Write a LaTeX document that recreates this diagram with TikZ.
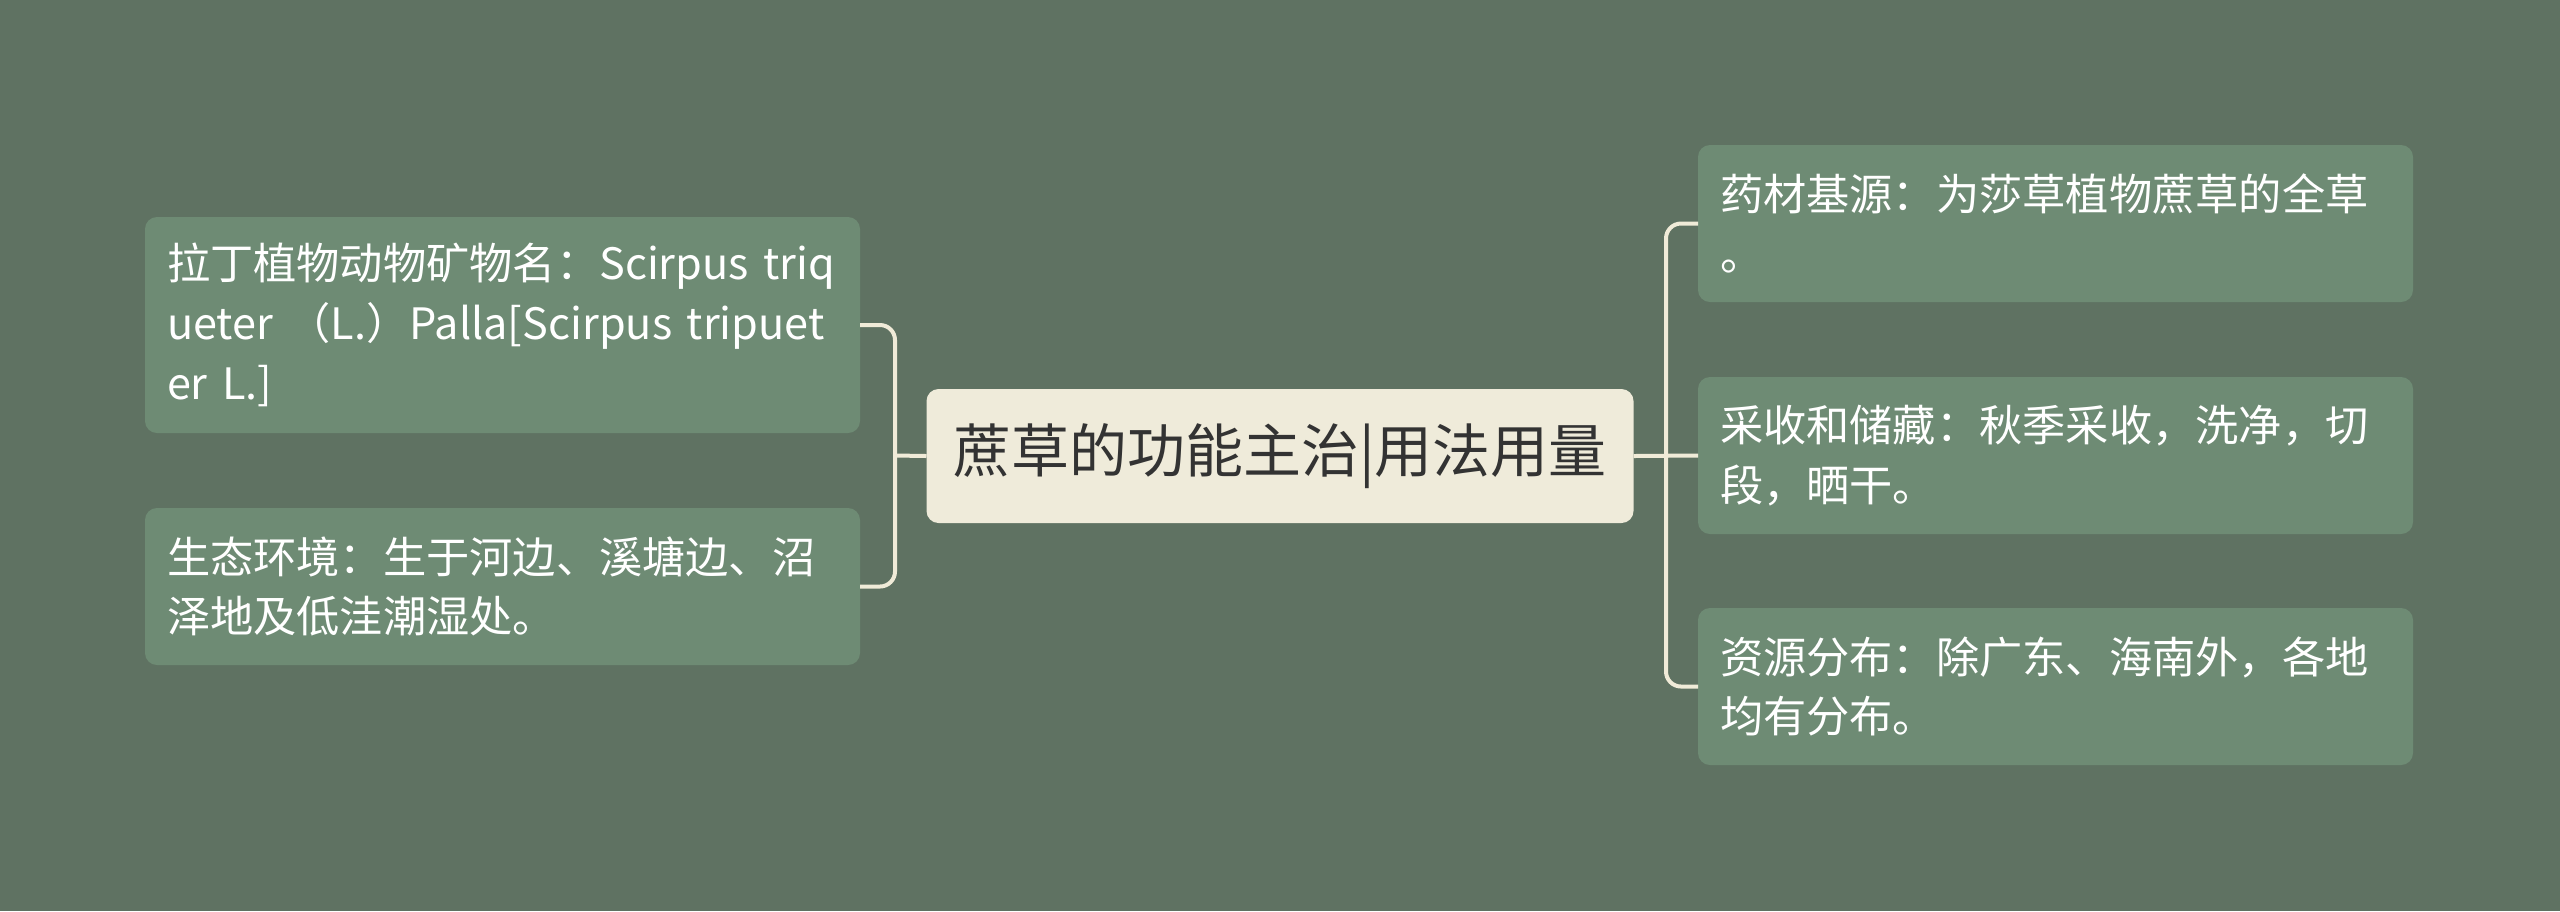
\documentclass[tikz,border=0pt]{standalone}
\usepackage{fontspec}
\usepackage{xcolor}
\usepackage{tikz}
\usetikzlibrary{positioning}
\newfontfamily\cjk{Noto Sans CJK SC}
\definecolor{bgGreen}{HTML}{5F7262}
\definecolor{leafGreen}{HTML}{6E8B74}
\definecolor{topicCream}{HTML}{EFEBDA}
\definecolor{linkCream}{HTML}{F0EBD8}
\definecolor{topicText}{HTML}{333333}
\tikzset{
	every node/.style={outer sep=0pt},
	topic/.style={rectangle, rounded corners=0.12cm, fill=topicCream,
		text=topicText, font=\cjk\fontsize{16.5}{20}\selectfont,
		minimum width=7.07cm, minimum height=1.34cm, align=center},
	leaf/.style={rectangle, rounded corners=0.12cm, fill=leafGreen,
		text=white, font=\cjk\fontsize{12.3}{17}\selectfont,
		inner xsep=0.22cm, text width=6.71cm, align=left},
	link/.style={draw=linkCream, line width=0.04cm, rounded corners=0.15cm}
}

\begin{document}
\begin{tikzpicture}
	\fill[bgGreen] (0,0) rectangle (25.6,-9.11);
	\useasboundingbox (0,0) rectangle (25.6,-9.11);
	\node[topic] (root) at (12.8,-4.56) {蔗草的功能主治|用法用量};
	\node[leaf, minimum height=2.16cm] (latin) at (5.025,-3.25)
		{拉丁植物动物矿物名：Scirpus triq\\ueter （L.）Palla[Scirpus tripuet\\er L.]};
	\node[leaf, minimum height=1.57cm] (eco) at (5.025,-5.865)
		{生态环境：生于河边、溪塘边、沼\\泽地及低洼潮湿处。};
	\node[leaf, minimum height=1.57cm] (origin) at (20.555,-2.235)
		{药材基源：为莎草植物蔗草的全草\\。};
	\node[leaf, minimum height=1.57cm] (harvest) at (20.555,-4.555)
		{采收和储藏：秋季采收，洗净，切\\段，晒干。};
	\node[leaf, minimum height=1.57cm] (spread) at (20.555,-6.865)
		{资源分布：除广东、海南外，各地\\均有分布。};
	\coordinate (ljoin) at (8.95,-4.555);
	\coordinate (rjoin) at (16.66,-4.555);
	\draw[link] (latin.east) -| (ljoin) |- (eco.east);
	\draw[link] (root.west) -- (ljoin);
	\draw[link] (origin.west) -| (rjoin) |- (spread.west);
	\draw[link] (root.east) -- (harvest.west);
\end{tikzpicture}
\end{document}
